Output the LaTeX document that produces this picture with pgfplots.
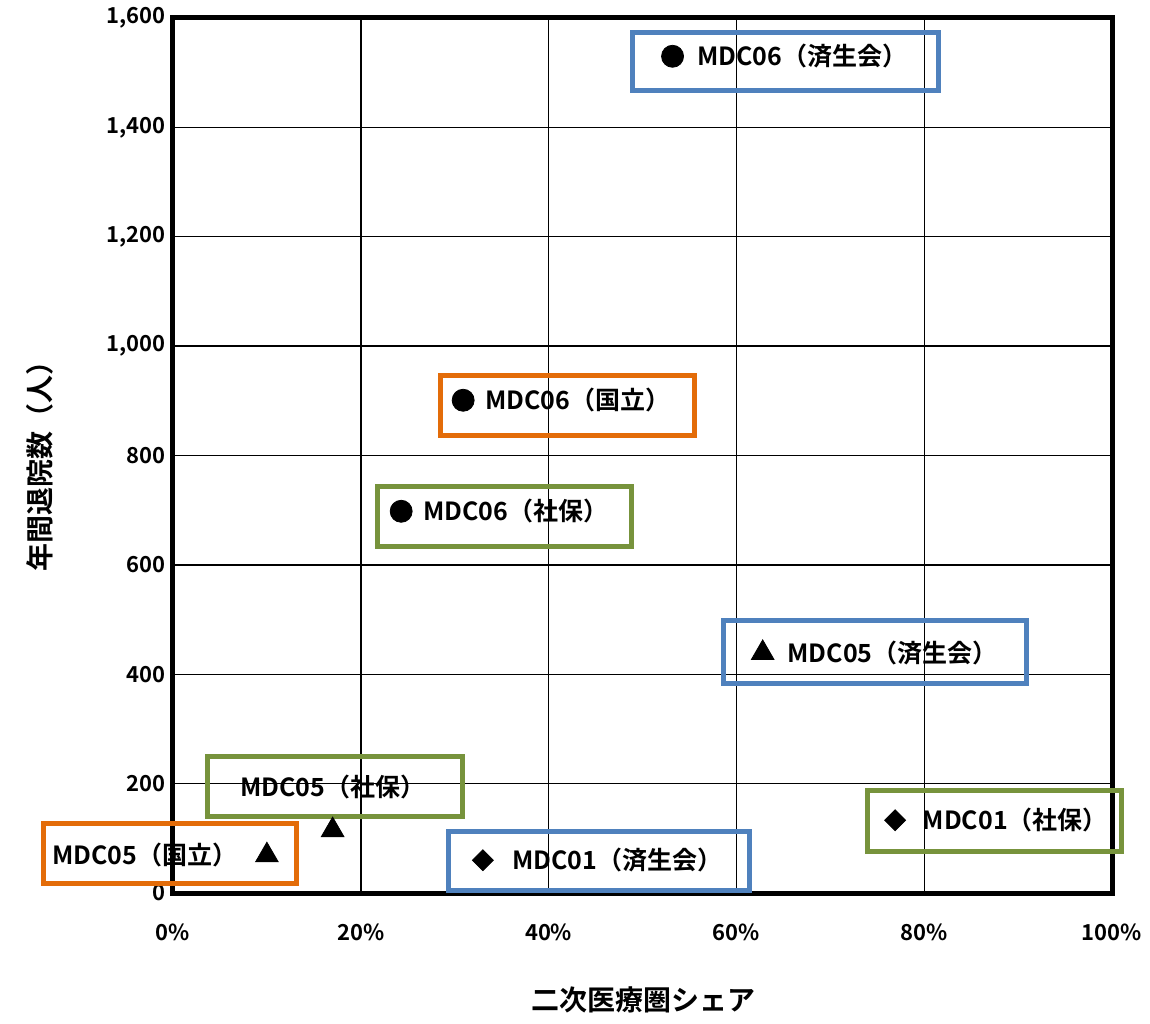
\documentclass[border=0pt]{standalone}
\usepackage{pgfplots}
\pgfplotsset{compat=1.18}
\usepackage{fontspec}
\setmainfont{Noto Sans CJK JP}[BoldFont={* Bold}]
\definecolor{cb}{HTML}{4F81BD}
\definecolor{co}{HTML}{E36C09}
\definecolor{cg}{HTML}{77933C}
\begin{document}
\begin{tikzpicture}
\useasboundingbox (-86.5pt,-65pt) rectangle (488.5pt,446.5pt);
\begin{axis}[at={(0,0)},anchor=south west,scale only axis,width=469.5pt,height=437.5pt,
 xmin=0,xmax=100,ymin=0,ymax=1600,clip=false,
 xtick={0,20,40,60,80,100},xticklabels={0\%,20\%,40\%,60\%,80\%,100\%},
 ytick={0,200,...,1600},
 /pgf/number format/assume math mode=true,
 tick label style={font=\bfseries\fontsize{11}{12}\selectfont},
 yticklabel style={/pgf/number format/1000 sep={,}},
 xticklabel style={yshift=-12pt},
 grid=major,major grid style={black,line width=0.7pt},
 axis line style={line width=2.5pt},tick style={draw=none}]
\begin{scope}[line width=2.5pt]
\draw[cb] (axis cs:48.9,1574) rectangle (axis cs:81.5,1468);
\draw[co] (axis cs:28.5,947) rectangle (axis cs:55.5,836);
\draw[cg] (axis cs:21.8,744) rectangle (axis cs:48.8,634);
\draw[cb] (axis cs:58.6,499) rectangle (axis cs:90.9,384);
\draw[cg] (axis cs:3.7,249) rectangle (axis cs:30.8,139);
\draw[co] (axis cs:-13.8,128) rectangle (axis cs:13.1,18);
\draw[cb] (axis cs:29.3,113) rectangle (axis cs:61.4,4);
\draw[cg] (axis cs:74.0,187) rectangle (axis cs:101.0,75);
\end{scope}
\begin{scope}[every node/.style={anchor=west,inner sep=0pt,font=\bfseries\fontsize{12.5}{14}\selectfont}]
\node at (axis cs:55.8,1530) {MDC06（済生会）};
\node at (axis cs:33.2,901) {MDC06（国立）};
\node at (axis cs:26.6,698) {MDC06（社保）};
\node at (axis cs:65.4,439) {MDC05（済生会）};
\node at (axis cs:7.1,194) {MDC05（社保）};
\node at (axis cs:-12.9,69) {MDC05（国立）};
\node at (axis cs:36.1,60) {MDC01（済生会）};
\node at (axis cs:79.8,133) {MDC01（社保）};
\end{scope}
\addplot[only marks,mark=*,mark size=5.5pt,black] coordinates {(53.2,1530)(30.9,901)(24.3,698)};
\addplot[only marks,mark=triangle*,mark size=6.5pt,black] coordinates {(62.8,439)(17.0,115)(10.0,69)};
\addplot[only marks,mark=square*,mark size=3.7pt,black,mark options={rotate=45}] coordinates {(33.0,60)(76.9,133)};
\end{axis}
\node[rotate=90,font=\bfseries\fontsize{14}{16}\selectfont] at (-66.5pt,216.5pt) {年間退院数（人）};
\node[font=\bfseries\fontsize{14}{16}\selectfont] at (235pt,-53.5pt) {二次医療圏シェア};
\end{tikzpicture}
\end{document}
